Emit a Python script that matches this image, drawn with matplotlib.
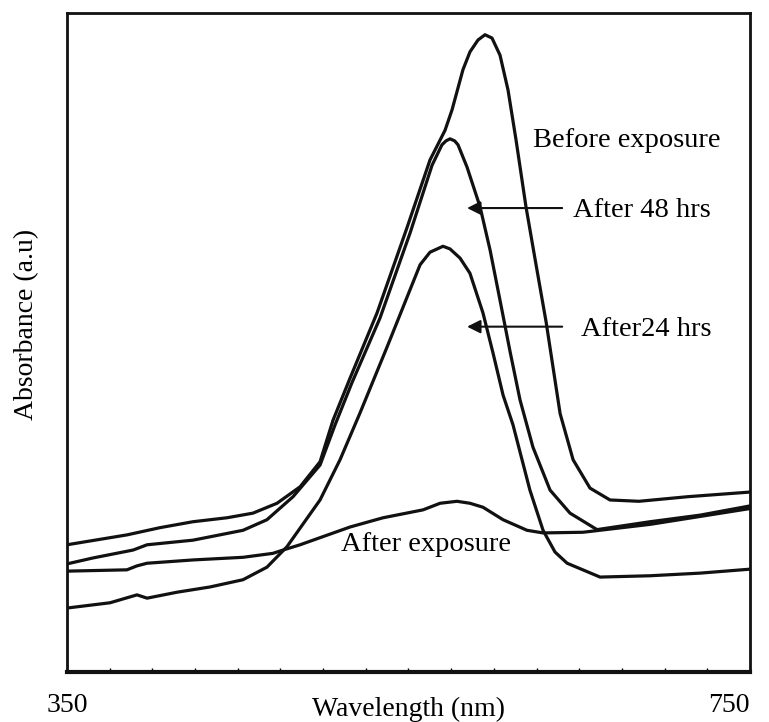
import matplotlib.pyplot as plt

plt.rcParams['font.family'] = ['Liberation Serif', 'DejaVu Serif']

# spectra (wavelength in nm, absorbance in a.u.)
wl_before = [350, 385.1, 404.5, 423.8, 443.7, 458.9, 473.0, 486.5, 498.2, 505.8, 515.8, 531.6,
             549.1, 562.6, 571.4, 575.5, 581.9, 586.0, 590.7, 594.8, 598.9, 603.6, 608.3,
             613.0, 618.8, 624.7, 630.6, 638.8, 646.4, 656.3, 668.0, 685.0, 713.7, 750]
ab_before = [0.193, 0.208, 0.219, 0.228, 0.234, 0.241, 0.256, 0.281, 0.319, 0.382, 0.446, 0.545,
             0.674, 0.777, 0.822, 0.853, 0.914, 0.941, 0.959, 0.967, 0.962, 0.936, 0.883,
             0.807, 0.706, 0.618, 0.531, 0.392, 0.322, 0.279, 0.261, 0.259, 0.266, 0.273]

wl_48 = [350, 365.2, 388.7, 396.9, 423.8, 453.1, 467.1, 482.4, 498.2, 507.0, 516.9, 533.3,
         550.9, 563.8, 569.6, 572.0, 574.3, 577.0, 579.0, 584.3, 591.9, 597.8, 603.6, 609.5,
         615.3, 622.9, 632.9, 644.6, 660.4, 691.5, 720.8, 750]
ab_48 = [0.164, 0.173, 0.185, 0.193, 0.200, 0.215, 0.231, 0.266, 0.314, 0.375, 0.439, 0.537,
         0.666, 0.769, 0.800, 0.806, 0.809, 0.806, 0.800, 0.766, 0.706, 0.640, 0.564, 0.486,
         0.413, 0.341, 0.276, 0.241, 0.216, 0.228, 0.238, 0.252]

wl_24 = [350, 375.2, 391.0, 396.9, 414.4, 433.8, 453.1, 467.1, 478.8, 498.2, 509.9, 521.6,
         537.9, 550.9, 556.8, 562.6, 570.2, 574.3, 580.2, 586.0, 593.6, 599.5, 605.4,
         611.2, 621.1, 628.8, 635.8, 642.9, 662.2, 691.5, 720.8, 750]
ab_24 = [0.097, 0.105, 0.117, 0.112, 0.121, 0.129, 0.140, 0.159, 0.190, 0.261, 0.322, 0.393,
         0.496, 0.580, 0.618, 0.637, 0.646, 0.642, 0.628, 0.605, 0.545, 0.484, 0.420,
         0.375, 0.276, 0.215, 0.182, 0.165, 0.144, 0.146, 0.150, 0.156]

wl_after = [350, 385.1, 391.0, 396.9, 423.8, 453.1, 470.6, 476.5, 486.5, 515.8, 535.1, 558.5,
            568.5, 578.4, 586.0, 593.6, 605.4, 619.4, 628.8, 652.2, 691.5, 720.8, 750]
ab_after = [0.153, 0.155, 0.161, 0.165, 0.170, 0.174, 0.180, 0.185, 0.193, 0.220, 0.234, 0.246,
            0.256, 0.259, 0.256, 0.250, 0.231, 0.215, 0.211, 0.212, 0.224, 0.236, 0.248]

fig = plt.figure(figsize=(7.69, 7.22), dpi=100)
ax = fig.add_axes([0.0871, 0.0693, 0.8882, 0.9127])

for wl, ab in [(wl_before, ab_before), (wl_48, ab_48), (wl_24, ab_24), (wl_after, ab_after)]:
    ax.plot(wl, ab, color='#111111', lw=2.3, solid_joinstyle='round', solid_capstyle='round')

ax.set_xlim(350, 750)
ax.set_ylim(0, 1)
ax.set_xticks([350, 750])
ax.set_yticks([])
ax.tick_params(axis='x', length=0, pad=15, labelsize=20)
ax.set_xticks(range(375, 750, 25), minor=True)
ax.tick_params(axis='x', which='minor', direction='in', length=3, width=1)
for lbl in ax.get_xticklabels():
    if lbl.get_text() == '750':
        lbl.set_ha('right')
        lbl.set_x(1.0)

for s in ax.spines.values():
    s.set_linewidth(2.0)
    s.set_color('#111111')
ax.spines['bottom'].set_linewidth(3.0)

ax.set_xlabel('Wavelength (nm)', fontsize=20, va='top')
ax.xaxis.set_label_coords(0.5, -0.037)
ax.set_ylabel('Absorbance (a.u)', fontsize=20, va='center')
ax.yaxis.set_label_coords(-0.059, 0.528)

ax.text(622.9, 0.807, 'Before exposure', fontsize=20.5, va='center', ha='left')
ax.text(646.4, 0.700, 'After 48 hrs', fontsize=20.5, va='center', ha='left')
ax.text(651.1, 0.520, 'After24 hrs', fontsize=20.5, va='center', ha='left')
ax.text(510.5, 0.193, 'After exposure', fontsize=20.5, va='center', ha='left')

arrow = dict(arrowstyle='-|>', color='#111111', lw=1.5, mutation_scale=20, shrinkA=0, shrinkB=0)
ax.annotate('', xy=(584.3, 0.704), xytext=(640.0, 0.704), arrowprops=arrow)
ax.annotate('', xy=(584.3, 0.524), xytext=(640.0, 0.524), arrowprops=arrow)

fig.savefig('out.png', dpi=100)
